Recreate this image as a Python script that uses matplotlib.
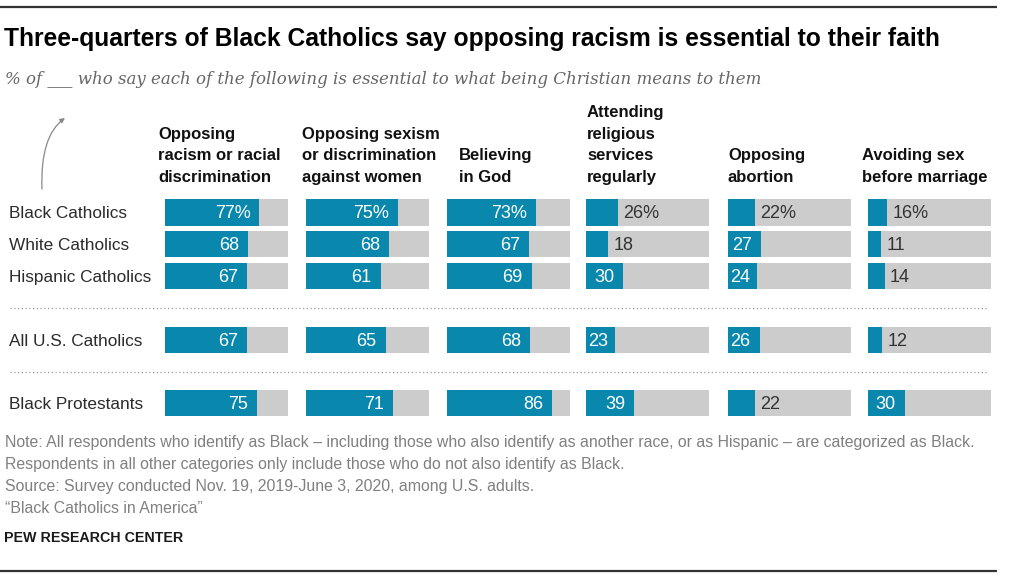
import matplotlib
matplotlib.use("Agg")
import matplotlib.pyplot as plt
from matplotlib import transforms as mtransforms
from matplotlib.path import Path
from matplotlib.patches import FancyArrowPatch

# ---------------- data ----------------
groups = ["Black Catholics", "White Catholics", "Hispanic Catholics",
          "All U.S. Catholics", "Black Protestants"]
headers = ["Opposing\nracism or racial\ndiscrimination",
           "Opposing sexism\nor discrimination\nagainst women",
           "Believing\nin God",
           "Attending\nreligious\nservices\nregularly",
           "Opposing\nabortion",
           "Avoiding sex\nbefore marriage"]
opposing_racism = [77, 68, 67, 67, 75]
opposing_sexism = [75, 68, 61, 65, 71]
believing_god = [73, 67, 69, 68, 86]
attending_services = [26, 18, 30, 23, 39]
opposing_abortion = [22, 27, 24, 26, 22]
avoiding_sex = [16, 11, 14, 12, 30]
columns = [opposing_racism, opposing_sexism, believing_god,
           attending_services, opposing_abortion, avoiding_sex]

title = "Three-quarters of Black Catholics say opposing racism is essential to their faith"
subtitle = "% of ___ who say each of the following is essential to what being Christian means to them"
notes = ["Note: All respondents who identify as Black \u2013 including those who also identify as another race, or as Hispanic \u2013 are categorized as Black.",
         "Respondents in all other categories only include those who do not also identify as Black.",
         "Source: Survey conducted Nov. 19, 2019-June 3, 2020, among U.S. adults.",
         "\u201cBlack Catholics in America\u201d"]
source = "PEW RESEARCH CENTER"

# ---------------- layout ----------------
W, H = 1023, 579
row_pos = [0, 1, 2, 4, 6]
sep_pos = [3, 5]
col_x = [164.7, 305.7, 446.7, 586.3, 727.7, 867.7]
header_x = [158, 302, 459, 587, 728, 862]
bar_px = 123.0
row_step = 31.8
first_center = 212.5
BLUE = "#0a87ad"
GRAY = "#cccccc"
SANS = ["Liberation Sans", "DejaVu Sans"]

fig = plt.figure(figsize=(W / 100, H / 100), dpi=100)
fig.patch.set_facecolor("white")
renderer = fig.canvas.get_renderer()

over = fig.add_axes([0, 0, 1, 1], zorder=0)
over.set_xlim(0, W)
over.set_ylim(H, 0)
over.axis("off")


def fit(t, target):
    w = t.get_window_extent(renderer).width
    t.set_fontsize(t.get_fontsize() * target / w)


# rules
over.plot([0, 997], [7.3, 7.3], color="#333333", lw=1.6, solid_capstyle="butt")
over.plot([0, 997], [571, 571], color="#333333", lw=1.6, solid_capstyle="butt")

# title / subtitle
t = over.text(4, 45.7, title, fontsize=15, fontweight="bold", family=SANS,
              color="#000000", va="baseline", ha="left")
fit(t, 941)
t = over.text(5, 84, subtitle, fontsize=13, style="italic",
              family=["DejaVu Serif"], color="#666666", va="baseline", ha="left")
fit(t, 757)

# column axes
top_px = first_center - 0.5 * row_step
bot_px = top_px + 7 * row_step
axes = []
for ci, vals in enumerate(columns):
    ax = fig.add_axes([col_x[ci] / W, 1 - bot_px / H, bar_px / W, (bot_px - top_px) / H], zorder=2)
    ax.set_xlim(0, 100)
    ax.set_ylim(6.5, -0.5)
    ax.axis("off")
    ax.barh(row_pos, [100] * len(vals), height=0.83, color=GRAY, lw=0)
    ax.barh(row_pos, vals, height=0.83, color=BLUE, lw=0)
    for ri, (p, v) in enumerate(zip(row_pos, vals)):
        lab = f"{v}%" if ri == 0 else f"{v}"
        inside = v >= (40 if ri == 0 else 23)
        if inside:
            tr = mtransforms.offset_copy(ax.transData, fig=fig, x=-9, y=-6, units="dots")
            tx = ax.text(v, p, lab, ha="right", va="baseline", fontsize=13,
                         family=SANS, color="white", transform=tr)
            w = tx.get_window_extent(renderer).width
            bw = v * bar_px / 100
            if bw - 9 - w < 2:
                dx = 2 + w - bw
                tx.set_transform(mtransforms.offset_copy(ax.transData, fig=fig, x=dx, y=-6, units="dots"))
        else:
            tr = mtransforms.offset_copy(ax.transData, fig=fig, x=5, y=-6, units="dots")
            ax.text(v, p, lab, ha="left", va="baseline", fontsize=13,
                    family=SANS, color="#333333", transform=tr)
    axes.append(ax)

# headers
for hx, h in zip(header_x, headers):
    lines = h.split("\n")
    n = len(lines)
    for i, line in enumerate(lines):
        over.text(hx, 182 - (n - 1 - i) * 21.7, line, fontsize=12, fontweight="bold",
                  family=SANS, color="#111111", va="baseline", ha="left")

# row labels
blend = mtransforms.blended_transform_factory(over.transData, axes[0].transData)
lab_tr = mtransforms.offset_copy(blend, fig=fig, x=0, y=-6, units="dots")
for p, g in zip(row_pos, groups):
    over.text(9, p, g, fontsize=12.4, family=SANS, color="#2b2b2b",
              va="baseline", ha="left", transform=lab_tr)

# dotted separators
for s in sep_pos:
    over.plot([10, 987], [s, s], transform=blend, color="#9a9a9a", lw=0.9,
              linestyle=(0, (1, 2)), clip_on=False)

# arrow
path = Path([(42, 189), (40, 136), (65, 118)], [Path.MOVETO, Path.CURVE3, Path.CURVE3])
arr = FancyArrowPatch(path=path, arrowstyle="-|>", mutation_scale=7,
                      color="#888888", lw=0.9)
over.add_patch(arr)

# notes
ts = []
for i, line in enumerate(notes):
    ts.append(over.text(5, 446.7 + 22 * i, line, fontsize=11, family=SANS,
                        color="#808080", va="baseline", ha="left"))
w0 = ts[0].get_window_extent(renderer).width
fs = 11 * 968 / w0
for tt in ts:
    tt.set_fontsize(fs)

t = over.text(4, 541.7, source, fontsize=10, fontweight="bold", family=SANS,
              color="#1a1a1a", va="baseline", ha="left")
fit(t, 179)

fig.savefig("out.png", dpi=100, facecolor="white")
